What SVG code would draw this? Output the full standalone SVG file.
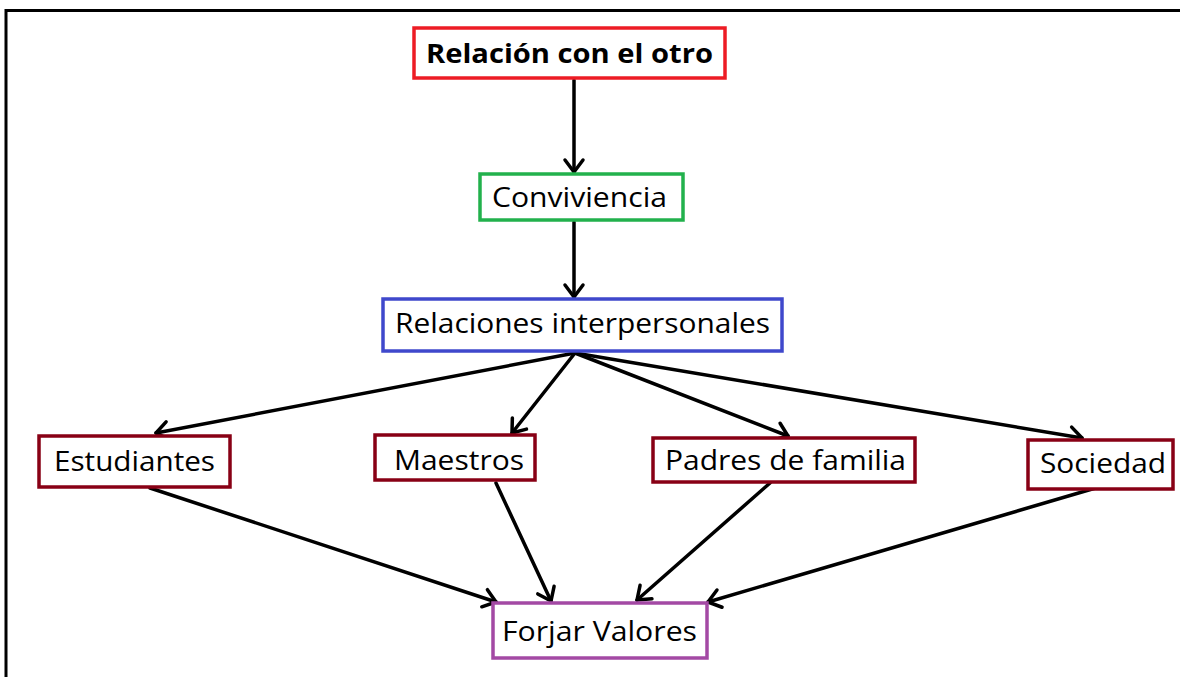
<svg xmlns="http://www.w3.org/2000/svg" width="1180" height="677" viewBox="0 0 1180 677">
<defs>
<style>
.box{fill:#fff;stroke-width:3.5}
.t{font-family:"Open Sans","Liberation Sans",Arial,sans-serif;font-size:27px;fill:#000}
.c{stroke:#000;stroke-width:3.5;fill:none;stroke-linecap:round;marker-end:url(#ah)}
</style>
<marker id="ah" markerUnits="userSpaceOnUse" markerWidth="30" markerHeight="30" viewBox="-15 -15 30 30" refX="0" refY="0" orient="auto">
<path d="M-12,-9 L0,0 L-12,9" fill="none" stroke="#000" stroke-width="3.5" stroke-linecap="round" stroke-linejoin="round"/>
</marker>
</defs>
<rect width="1180" height="677" fill="#fff"/>
<g id="frame">
<path d="M6,677 V10.5 H1180" fill="none" stroke="#000" stroke-width="3"/>
</g>
<g id="connectors">
<line class="c" x1="574" y1="80" x2="574" y2="172"/>
<line class="c" x1="574" y1="222" x2="574" y2="297"/>
<line class="c" x1="575" y1="353" x2="156" y2="433"/>
<line class="c" x1="575" y1="353" x2="512" y2="433"/>
<line class="c" x1="575" y1="353" x2="788" y2="436"/>
<line class="c" x1="575" y1="353" x2="1082" y2="438"/>
<line class="c" x1="150" y1="488" x2="496" y2="602"/>
<line class="c" x1="496" y1="483" x2="551" y2="601"/>
<line class="c" x1="770" y1="483" x2="637" y2="600"/>
<line class="c" x1="1099" y1="487" x2="708" y2="602"/>
</g>
<g id="n-relacion">
<rect class="box" x="414" y="28" width="311" height="50" stroke="#ED1C24"/>
<text class="t" x="426" y="63" font-weight="bold" textLength="287" lengthAdjust="spacingAndGlyphs">Relación con el otro</text>
</g>
<g id="n-conviviencia">
<rect class="box" x="480" y="174" width="203" height="46" stroke="#22B14C"/>
<text class="t" x="492" y="207" textLength="175" lengthAdjust="spacingAndGlyphs">Conviviencia</text>
</g>
<g id="n-relaciones">
<rect class="box" x="383" y="299" width="399" height="52" stroke="#3F48CC"/>
<text class="t" x="395" y="333" textLength="375" lengthAdjust="spacingAndGlyphs">Relaciones interpersonales</text>
</g>
<g id="n-estudiantes">
<rect class="box" x="39" y="436" width="191" height="51" stroke="#880015"/>
<text class="t" x="54" y="471" textLength="161" lengthAdjust="spacingAndGlyphs">Estudiantes</text>
</g>
<g id="n-maestros">
<rect class="box" x="375" y="435" width="160" height="45" stroke="#880015"/>
<text class="t" x="394" y="470" textLength="130" lengthAdjust="spacingAndGlyphs">Maestros</text>
</g>
<g id="n-padres">
<rect class="box" x="653" y="438" width="262" height="44" stroke="#880015"/>
<text class="t" x="665" y="470" textLength="241" lengthAdjust="spacingAndGlyphs">Padres de familia</text>
</g>
<g id="n-sociedad">
<rect class="box" x="1028" y="440" width="145" height="49" stroke="#880015"/>
<text class="t" x="1040" y="473" textLength="126" lengthAdjust="spacingAndGlyphs">Sociedad</text>
</g>
<g id="n-forjar">
<rect class="box" x="493" y="603" width="214" height="55" stroke="#A349A4"/>
<text class="t" x="502" y="641" textLength="195" lengthAdjust="spacingAndGlyphs">Forjar Valores</text>
</g>
</svg>
